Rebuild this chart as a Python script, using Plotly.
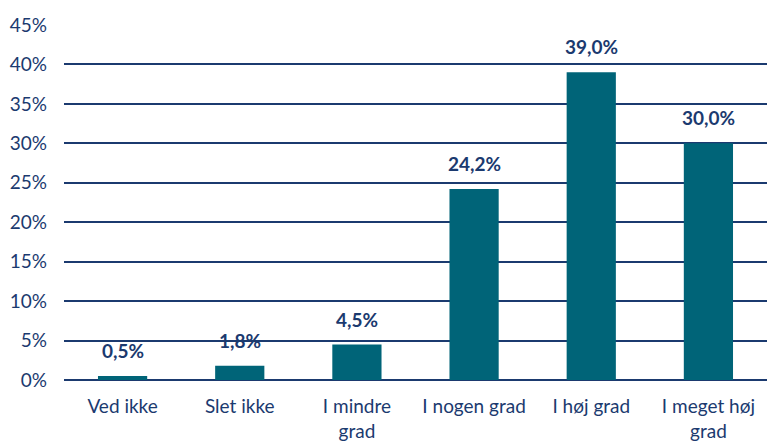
import plotly.graph_objects as go

categories = ["Ved ikke", "Slet ikke", "I mindre<br>grad", "I nogen grad", "I høj grad", "I meget høj<br>grad"]
values = [0.5, 1.8, 4.5, 24.2, 39.0, 30.0]
labels = ["0,5%", "1,8%", "4,5%", "24,2%", "39,0%", "30,0%"]
tick_vals = [0, 5, 10, 15, 20, 25, 30, 35, 40, 45]
tick_text = ["0%", "5%", "10%", "15%", "20%", "25%", "30%", "35%", "40%", "45%"]

navy = "#1b3a6f"
bar_color = "#006478"
font_family = "Lato, 'Open Sans', sans-serif"

fig = go.Figure()
fig.add_trace(go.Bar(x=categories, y=values, marker=dict(color=bar_color, line=dict(width=0)),
                     hoverinfo="skip"))
for c, v, t in zip(categories, values, labels):
    fig.add_annotation(x=c, y=v, text="<b>" + t + "</b>", showarrow=False,
                       yanchor="bottom", yshift=12,
                       font=dict(family=font_family, size=19, color=navy))

fig.update_layout(
    width=767, height=447,
    margin=dict(l=64, r=0, t=25, b=67),
    plot_bgcolor="white", paper_bgcolor="white",
    bargap=0.58,
    showlegend=False,
    font=dict(family=font_family, size=19, color=navy),
)
fig.update_xaxes(showgrid=False, showline=False, ticks="", tickfont=dict(size=19, color=navy),
                 tickangle=0, ticklabelstandoff=13)
fig.update_yaxes(range=[0, 45], tickvals=tick_vals, ticktext=tick_text, showgrid=True,
                 gridcolor=navy, gridwidth=1.5, zeroline=True, zerolinecolor=navy, zerolinewidth=1.5,
                 showline=False, ticks="", ticklabelstandoff=16,
                 tickfont=dict(size=19, color=navy))

fig.write_html("out.html", config={"displayModeBar": False},
               post_script="document.body.style.margin='0';document.body.style.overflow='hidden';")
